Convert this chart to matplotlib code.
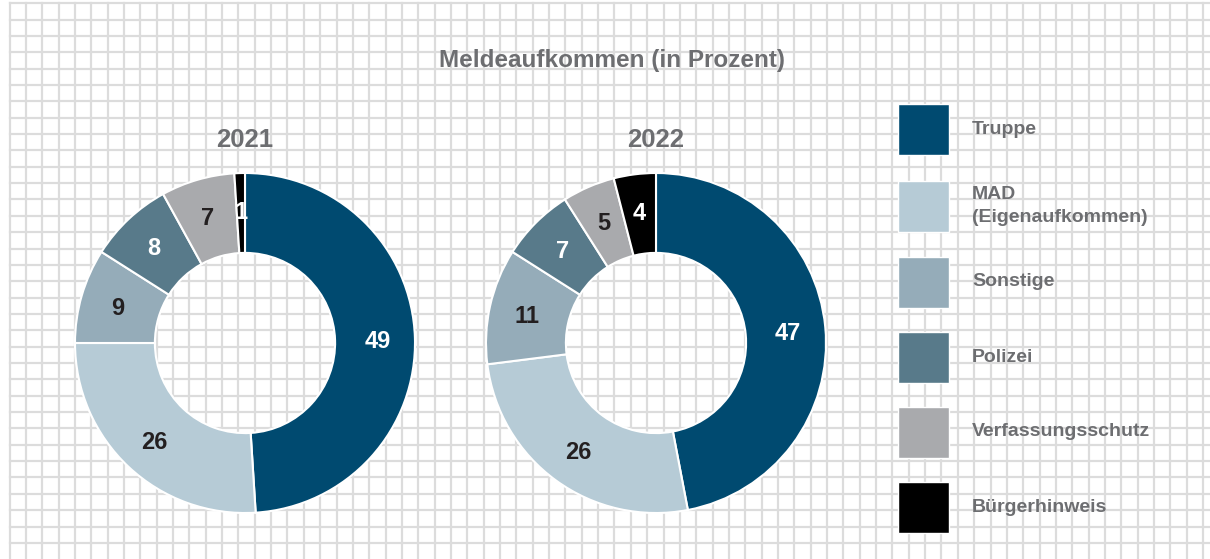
import matplotlib.pyplot as plt
from matplotlib.patches import Rectangle

# Data
categories = ["Truppe", "MAD\n(Eigenaufkommen)", "Sonstige", "Polizei",
              "Verfassungsschutz", "Bürgerhinweis"]
years = ["2021", "2022"]
values_2021 = [49, 26, 9, 8, 7, 1]
values_2022 = [47, 26, 11, 7, 5, 4]

colors = ["#004a70", "#b6cbd6", "#95acb9", "#587a8a", "#a9aaad", "#000000"]
label_colors = ["white", "#231f20", "#231f20", "white", "#231f20", "white"]
grey = "#6d6e71"

plt.rcParams['font.family'] = ['Liberation Sans Narrow', 'Liberation Sans', 'DejaVu Sans']
plt.rcParams['font.weight'] = 'bold'

W, H = 1210, 559
fig = plt.figure(figsize=(W / 100, H / 100), dpi=100)

# background axes in pixel coordinates
bg = fig.add_axes([0, 0, 1, 1])
bg.set_xlim(0, W)
bg.set_ylim(H, 0)
bg.axis('off')

step = 16.35
x = 9.5
while x < W:
    bg.axvline(x, ymin=0, ymax=1 - 3.3 / H, color="#dcdcdc", lw=1.6, zorder=0)
    x += step
y = 3.3
while y < H:
    bg.axhline(y, xmin=9.5 / W, xmax=1, color="#dcdcdc", lw=1.6, zorder=0)
    y += step

bg.text(612, 60, "Meldeaufkommen (in Prozent)", ha='center', va='center',
        fontsize=17.5, color=grey, fontweight='bold')

# donuts
centers = [245, 656]
radius = 170
for cx, year, vals in zip(centers, years, [values_2021, values_2022]):
    ax = fig.add_axes([(cx - radius) / W, (H - 343 - radius) / H,
                       2 * radius / W, 2 * radius / H])
    wedges, texts, autotexts = ax.pie(
        vals, colors=colors, startangle=90, counterclock=False, radius=1,
        wedgeprops=dict(width=0.47, edgecolor='white', linewidth=1.5),
        autopct=lambda p: f"{p:.0f}", pctdistance=0.78)
    for t, c in zip(autotexts, label_colors):
        t.set_color(c)
        t.set_fontsize(17)
        t.set_fontweight('bold')
        t.set_verticalalignment('center_baseline')
    ax.set_xlim(-1, 1)
    ax.set_ylim(-1, 1)
    ax.axis('off')
    bg.text(cx, 140, year, ha='center', va='center', fontsize=18.5,
            color=grey, fontweight='bold')

# legend
leg_y = [129, 206, 282, 357, 432, 507]
for cat, col, yc in zip(categories, colors, leg_y):
    bg.add_patch(Rectangle((898, yc - 25.5), 51, 51, facecolor=col,
                           edgecolor='white', lw=1, zorder=3))
    bg.text(972, yc, cat, ha='left', va='center', fontsize=14,
            color=grey, fontweight='bold', linespacing=1.45, zorder=3)

fig.savefig("out.png", dpi=100)
